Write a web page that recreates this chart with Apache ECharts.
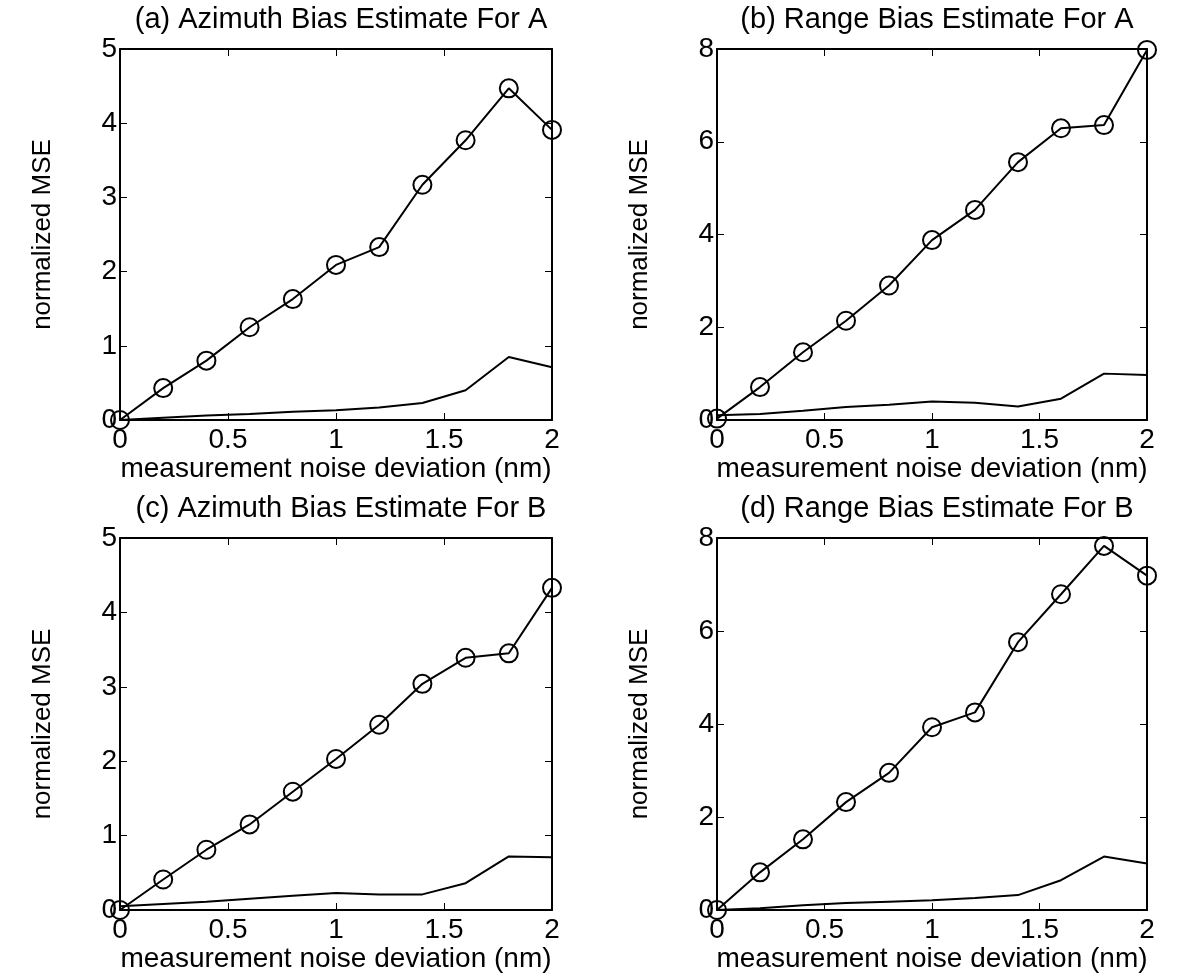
<!DOCTYPE html>
<html>
<head>
<meta charset="utf-8">
<script src="https://cdn.jsdelivr.net/npm/echarts@6/dist/echarts.min.js"></script>
<style>
  html, body { margin: 0; padding: 0; background: #fff; }
  #main { width: 1200px; height: 978px; }
</style>
</head>
<body>
<div id="main"></div>
<script>
// noise deviation (nm) - shared x values
let noiseDev = [0, 0.2, 0.4, 0.6, 0.8, 1.0, 1.2, 1.4, 1.6, 1.8, 2.0];

// (a) azimuth bias, A
let azA_circle = [0, 0.43, 0.80, 1.25, 1.63, 2.09, 2.33, 3.17, 3.77, 4.47, 3.91];
let azA_line   = [0, 0.03, 0.06, 0.08, 0.11, 0.13, 0.17, 0.23, 0.40, 0.85, 0.71];
// (b) range bias, A
let rgA_circle = [0.03, 0.71, 1.46, 2.14, 2.90, 3.88, 4.53, 5.56, 6.29, 6.36, 7.98];
let rgA_line   = [0.10, 0.13, 0.20, 0.28, 0.33, 0.40, 0.37, 0.29, 0.46, 1.00, 0.97];
// (c) azimuth bias, B
let azB_circle = [0, 0.41, 0.81, 1.15, 1.59, 2.03, 2.49, 3.04, 3.39, 3.45, 4.33];
let azB_line   = [0.05, 0.08, 0.11, 0.15, 0.19, 0.23, 0.21, 0.21, 0.36, 0.72, 0.71];
// (d) range bias, B
let rgB_circle = [0, 0.81, 1.52, 2.32, 2.95, 3.93, 4.25, 5.76, 6.79, 7.83, 7.19];
let rgB_line   = [0, 0.04, 0.10, 0.15, 0.18, 0.21, 0.26, 0.32, 0.64, 1.15, 1.00];

let titles = [
    "(a) Azimuth Bias Estimate For A",
    "(b) Range Bias Estimate For A",
    "(c) Azimuth Bias Estimate For B",
    "(d) Range Bias Estimate For B"
];
let yMax = [5, 8, 5, 8];
let yInterval = [1, 2, 1, 2];
let circleSets = [azA_circle, rgA_circle, azB_circle, rgB_circle];
let lineSets = [azA_line, rgA_line, azB_line, rgB_line];

let fontFamily = "Liberation Sans, Arial, Helvetica, sans-serif";
let gridPos = [
    {left: 120, top: 49, width: 432, height: 371},
    {left: 717, top: 49, width: 430, height: 371},
    {left: 120, top: 538, width: 432, height: 372},
    {left: 717, top: 538, width: 430, height: 372}
];

function pairs(ys) {
    return noiseDev.map((x, i) => [x, ys[i]]);
}

let option = {
    backgroundColor: "#fff",
    animation: false,
    title: [],
    grid: [],
    xAxis: [],
    yAxis: [],
    series: []
};

gridPos.forEach((g, i) => {
    option.grid.push(g);
    option.title.push({
        text: titles[i],
        left: g.left + g.width / 2,
        top: g.top - 49,
        textAlign: "center",
        textStyle: {fontFamily: fontFamily, fontSize: 29, fontWeight: "normal", color: "#000"}
    });
    let tick = {show: true, inside: true, length: 7, lineStyle: {color: "#000", width: 1}};
    let line = {show: true, onZero: false, lineStyle: {color: "#000", width: 2}};
    // bottom x axis
    option.xAxis.push({
        type: "value", gridIndex: i, min: 0, max: 2, interval: 0.5,
        position: "bottom",
        name: "measurement noise deviation (nm)",
        nameLocation: "middle", nameGap: 32,
        nameTextStyle: {fontFamily: fontFamily, fontSize: 28, color: "#000"},
        axisLine: line, axisTick: tick, splitLine: {show: false},
        axisLabel: {fontFamily: fontFamily, fontSize: 28, color: "#000", margin: 6}
    });
    // top x axis (box)
    option.xAxis.push({
        type: "value", gridIndex: i, min: 0, max: 2, interval: 0.5,
        position: "top",
        axisLine: line, axisTick: tick, splitLine: {show: false},
        axisLabel: {show: false}
    });
    // left y axis
    option.yAxis.push({
        type: "value", gridIndex: i, min: 0, max: yMax[i], interval: yInterval[i],
        position: "left",
        name: "normalized MSE",
        nameLocation: "middle", nameGap: 64, nameRotate: 90,
        nameTextStyle: {fontFamily: fontFamily, fontSize: 26, color: "#000"},
        axisLine: line, axisTick: tick, splitLine: {show: false},
        axisLabel: {fontFamily: fontFamily, fontSize: 28, color: "#000", margin: 3}
    });
    // right y axis (box)
    option.yAxis.push({
        type: "value", gridIndex: i, min: 0, max: yMax[i], interval: yInterval[i],
        position: "right",
        axisLine: line, axisTick: tick, splitLine: {show: false},
        axisLabel: {show: false}
    });

    option.series.push({
        type: "line", xAxisIndex: i * 2, yAxisIndex: i * 2,
        data: pairs(circleSets[i]),
        symbol: "circle", symbolSize: 18,
        itemStyle: {color: "rgba(0,0,0,0)", borderColor: "#000", borderWidth: 2},
        lineStyle: {color: "#000", width: 2},
        clip: false, z: 3
    });
    option.series.push({
        type: "line", xAxisIndex: i * 2, yAxisIndex: i * 2,
        data: pairs(lineSets[i]),
        symbol: "none",
        lineStyle: {color: "#000", width: 2},
        z: 2
    });
});

let chart = echarts.init(document.getElementById("main"));
chart.setOption(option);
</script>
</body>
</html>
